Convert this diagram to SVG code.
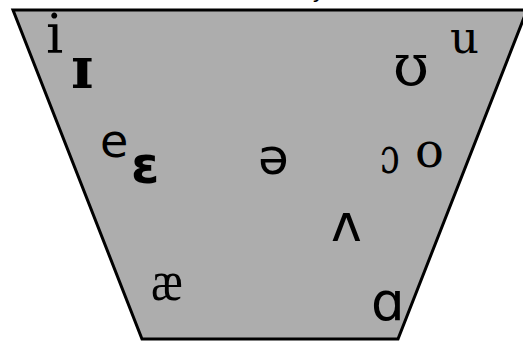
<svg xmlns="http://www.w3.org/2000/svg" width="523" height="341" viewBox="0 0 523 341">
<style>
.serif{font-family:"DejaVu Serif","Liberation Serif",serif;fill:#000}
.lserif{font-family:"Liberation Serif","DejaVu Serif",serif;fill:#000}
.sans{font-family:"DejaVu Sans","Liberation Sans",sans-serif;fill:#000}
.b{font-weight:bold}
</style>
<rect width="523" height="341" fill="#fff"/>
<g id="chart">
<polygon points="13,10 527,10 398,339 142,339" fill="#adadad" stroke="#000" stroke-width="3"/>
</g>
<text class="sans" x="312" y="-2" font-size="22">y</text>
<g id="v-i"><text class="serif" x="46" y="53" font-size="54">i</text></g>
<g id="v-I"><text class="serif b" x="71" y="88" font-size="58">ɪ</text></g>
<g id="v-U"><text class="serif" x="393" y="85" font-size="58">ʊ</text></g>
<g id="v-u"><text class="serif" x="450" y="53" font-size="45">u</text></g>
<g id="v-e"><text class="sans" x="100" y="157" font-size="46">e</text></g>
<g id="v-E"><text class="sans b" x="131" y="183" font-size="51">ɛ</text></g>
<g id="v-schwa"><text class="sans" x="258" y="174" font-size="50">ə</text></g>
<g id="v-O"><text class="serif" transform="translate(380,173) scale(0.7,1)" font-size="50">ɔ</text></g>
<g id="v-o"><text class="serif" x="415" y="167" font-size="48">o</text></g>
<g id="v-V"><text class="sans" x="331" y="241" font-size="52">ʌ</text></g>
<g id="v-ae"><text class="lserif" transform="translate(151,300) scale(0.82,1)" font-size="58">æ</text></g>
<g id="v-A"><text class="sans" x="371" y="320" font-size="53">ɑ</text></g>
</svg>
